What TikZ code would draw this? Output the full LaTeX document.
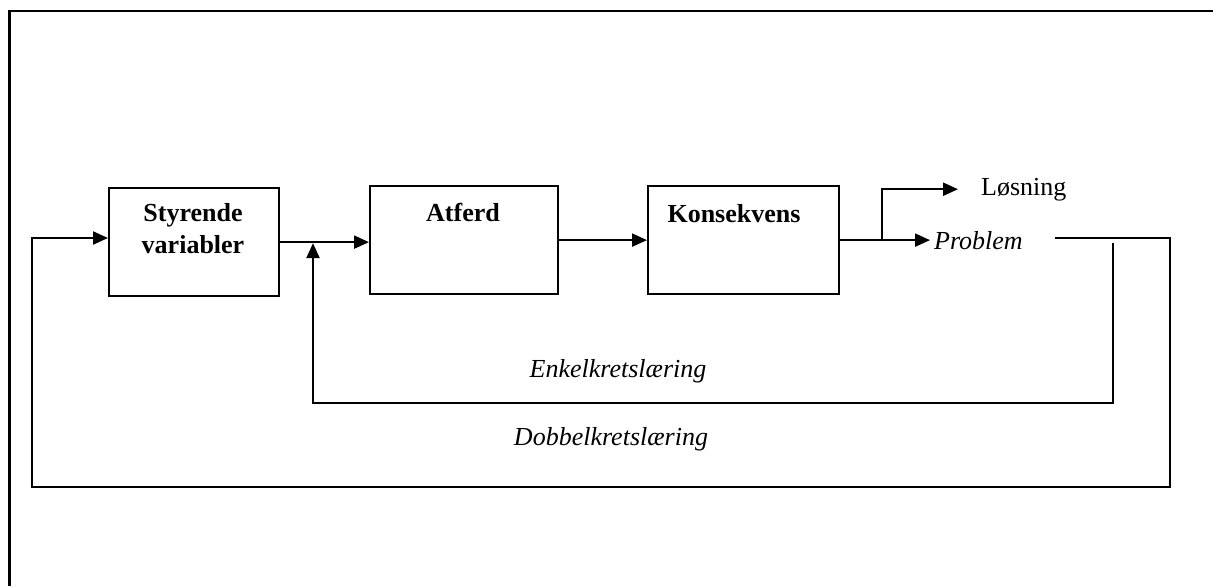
\documentclass[tikz,border=0pt]{standalone}
\usepackage{fontspec}
\setmainfont{Liberation Serif}
\usetikzlibrary{arrows.meta}
\usetikzlibrary{calc}
\usetikzlibrary{positioning}

\begin{document}
\begin{tikzpicture}[x=0.5pt,y=-0.5pt,>={Triangle[length=7.5pt,width=6.5pt]},line width=1.1pt,font=\fontsize{13}{16}\selectfont]
	\tikzstyle{blokk}=[draw,rectangle,inner sep=0pt,anchor=north west,minimum height=54pt]
	\tikzstyle{tittel}=[font=\fontsize{13}{16}\selectfont\bfseries,align=center,inner sep=0pt]
	\tikzstyle{merke}=[inner sep=0pt,anchor=base west]
	\tikzstyle{kursiv}=[inner sep=0pt,anchor=base,font=\fontsize{13}{16}\selectfont\itshape]
	\useasboundingbox (0,0) rectangle (1213,586);
	\draw[line width=1.4pt] (1213,11) -- (9.5,11) -- (9.5,586);

	\node[blokk,minimum width=85pt]   (styr) at (108,187) {};
	\node[blokk,minimum width=94pt]   (atf)  at (369,185) {};
	\node[blokk,minimum width=95.5pt] (kons) at (647,185) {};

	\node[tittel,anchor=north] (styrtekst) at (193,202) {Styrende\\variabler};
	\node[tittel,anchor=base]  (atftekst)  at (463,221) {Atferd};
	\node[tittel,anchor=base]  (konstekst) at (734,222) {Konsekvens};

	\node[merke] (losn) at (980,195) {Løsning};
	\node[merke,font=\fontsize{13}{16}\selectfont\itshape] (prob) at (933,249) {Problem};
	\node[kursiv] (enkel)  at (618,377) {Enkelkretslæring};
	\node[kursiv] (dobbel) at (611,445) {Dobbelkretslæring};

	\coordinate (kryss)      at ($(kons.east)+(42,0)$);
	\coordinate (probut)     at (1055,238);
	\coordinate (dobbelhj)   at (1170,487);
	\coordinate (dobbelinn)  at (32,238);
	\coordinate (enkelstart) at (1113,243);
	\coordinate (enkelbunn)  at (313,403);

	\draw[->] (styr.east) -- (atf.west |- styr.east);
	\draw[->] (atf.east) -- (kons.west |- atf.east);
	\draw (kons.east) -- (kryss);
	\draw[->,shorten >=1.5pt] (kryss) -- (prob.west |- kryss);
	\draw[->,shorten >=11pt] (kryss) |- (losn.west);
	\draw[->] (probut) -| (dobbelhj) -| (dobbelinn) -- (styr.west |- dobbelinn);
	\draw[->] (enkelstart) |- (enkelbunn) -- ($(enkelbunn |- styr.east)+(0,1)$);
\end{tikzpicture}
\end{document}
